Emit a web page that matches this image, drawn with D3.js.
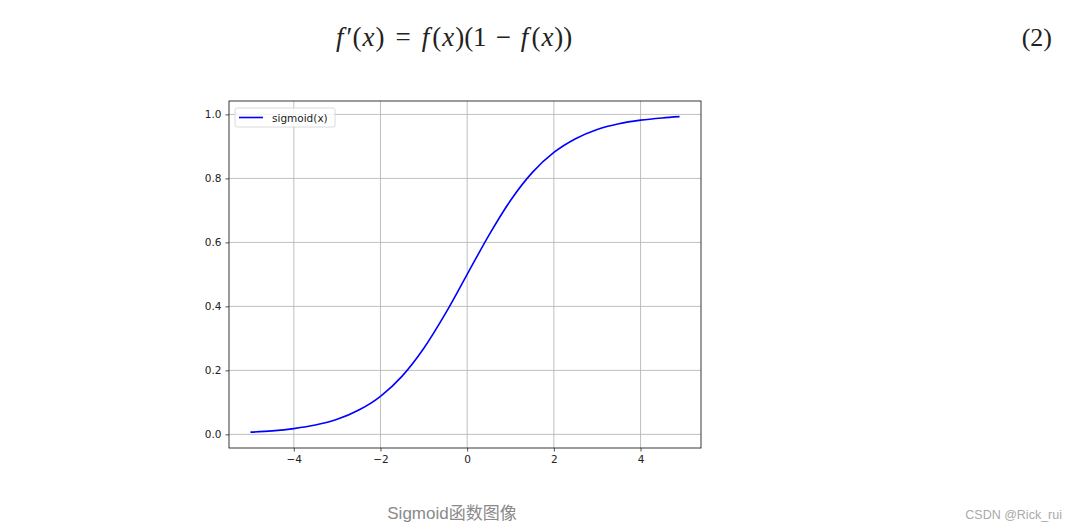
<!DOCTYPE html>
<html>
<head>
<meta charset="utf-8">
<script src="https://cdn.jsdelivr.net/npm/d3@7"></script>
<style>
  body { margin: 0; background: #fff; }
  svg { display: block; }
</style>
</head>
<body>
<script>
// points
var xs = [-5, -4.5, -4, -3.5, -3, -2.5, -2, -1.5, -1, -0.5, 0, 0.5, 1, 1.5, 2, 2.5, 3, 3.5, 4, 4.5, 4.9];
var ys = [0.007, 0.011, 0.018, 0.029, 0.047, 0.076, 0.119, 0.182, 0.269, 0.378, 0.5, 0.622, 0.731, 0.818, 0.881, 0.924, 0.953, 0.971, 0.982, 0.989, 0.993];
var xTicks = [-4, -2, 0, 2, 4];
var yTicks = [0.0, 0.2, 0.4, 0.6, 0.8, 1.0];
var seriesName = "sigmoid(x)";
var caption = "Sigmoid函数图像";
var watermark = "CSDN @Rick_rui";

var W = 1077, H = 530;
var svg = d3.select("body").append("svg").attr("width", W).attr("height", H);

// formula line, f'(x) = f(x)(1 - f(x))
var formula = svg.append("text")
    .attr("x", 336).attr("y", 46)
    .style("font-family", "'Liberation Serif', 'DejaVu Serif', serif")
    .style("font-size", "27px")
    .style("white-space", "pre")
    .attr("fill", "#222");
var parts = [["f", true, 0], ["′(", false, 3], ["x", true, 1], [")", false, 1], ["=", false, 11], ["f", true, 11], ["(", false, 3],
             ["x", true, 1], [")(1", false, 1], ["−", false, 9], ["f", true, 10], ["(", false, 3], ["x", true, 1], ["))", false, 1]];
parts.forEach(function(p){
  formula.append("tspan").attr("dx", p[2]).text(p[0]).style("font-style", p[1] ? "italic" : "normal");
});
svg.append("text").attr("x", 1052).attr("y", 46).attr("text-anchor", "end")
    .style("font-family", "'Liberation Serif', 'DejaVu Serif', serif")
    .style("font-size", "26px").attr("fill", "#222").text("(2)");

// plot area
var L = 229, R = 701, T = 101, B = 448;
var x = d3.scaleLinear().domain([-5.495, 5.395]).range([L, R]);
var y = d3.scaleLinear().domain([-0.0426, 1.0419]).range([B, T]);

var g = svg.append("g");

// grid
g.selectAll("line.gx").data(xTicks).enter().append("line")
  .attr("x1", function(d){ return x(d); }).attr("x2", function(d){ return x(d); })
  .attr("y1", T).attr("y2", B).attr("stroke", "#b0b0b0").attr("stroke-width", 0.8);
g.selectAll("line.gy").data(yTicks).enter().append("line")
  .attr("y1", function(d){ return y(d); }).attr("y2", function(d){ return y(d); })
  .attr("x1", L).attr("x2", R).attr("stroke", "#b0b0b0").attr("stroke-width", 0.8);

// axes
var xAxis = d3.axisBottom(x).tickValues(xTicks).tickSize(3.5).tickPadding(4)
  .tickFormat(function(d){ return d < 0 ? "−" + Math.abs(d) : d; });
var yAxis = d3.axisLeft(y).tickValues(yTicks).tickSize(3.5).tickPadding(4).tickFormat(d3.format(".1f"));

var gx = g.append("g").attr("transform", "translate(0," + B + ")").call(xAxis);
var gy = g.append("g").attr("transform", "translate(" + L + ",0)").call(yAxis);
[gx, gy].forEach(function(a){
  a.select(".domain").remove();
  a.selectAll("text").style("font-family", "'DejaVu Sans', sans-serif").style("font-size", "10.5px").attr("fill", "#222");
  a.selectAll("line").attr("stroke", "#222").attr("stroke-width", 0.8);
});

// curve
var line = d3.line()
  .x(function(d, i){ return x(xs[i]); })
  .y(function(d, i){ return y(ys[i]); })
  .curve(d3.curveMonotoneX);
g.append("path").datum(ys).attr("d", line)
  .attr("fill", "none").attr("stroke", "#0000ff").attr("stroke-width", 1.6);

// frame
g.append("rect").attr("x", L).attr("y", T).attr("width", R - L).attr("height", B - T)
  .attr("fill", "none").attr("stroke", "#222").attr("stroke-width", 0.9);

// legend
var lg = g.append("g").attr("transform", "translate(235,108)");
lg.append("rect").attr("width", 100).attr("height", 19).attr("rx", 2)
  .attr("fill", "#fff").attr("fill-opacity", 0.8).attr("stroke", "#d0d0d0").attr("stroke-width", 0.8);
lg.append("line").attr("x1", 4).attr("x2", 28).attr("y1", 9.5).attr("y2", 9.5)
  .attr("stroke", "#0000ff").attr("stroke-width", 1.6);
lg.append("text").attr("x", 37).attr("y", 13.5).text(seriesName)
  .style("font-family", "'DejaVu Sans', sans-serif").style("font-size", "10.5px").attr("fill", "#222");

// caption + watermark
var cap = svg.append("text").attr("x", 452).attr("y", 519).attr("text-anchor", "middle")
  .style("font-size", "17px").attr("fill", "#8a8a8a");
cap.append("tspan").style("font-family", "'Liberation Sans', Arial, sans-serif").text(caption.slice(0, 7));
cap.append("tspan").style("font-family", "'Noto Sans CJK SC', sans-serif").text(caption.slice(7));
svg.append("text").attr("x", 1062).attr("y", 519).attr("text-anchor", "end")
  .style("font-family", "'Liberation Sans', Arial, sans-serif").style("font-size", "12.5px")
  .attr("fill", "#aaaaaa").text(watermark);
</script>
</body>
</html>
